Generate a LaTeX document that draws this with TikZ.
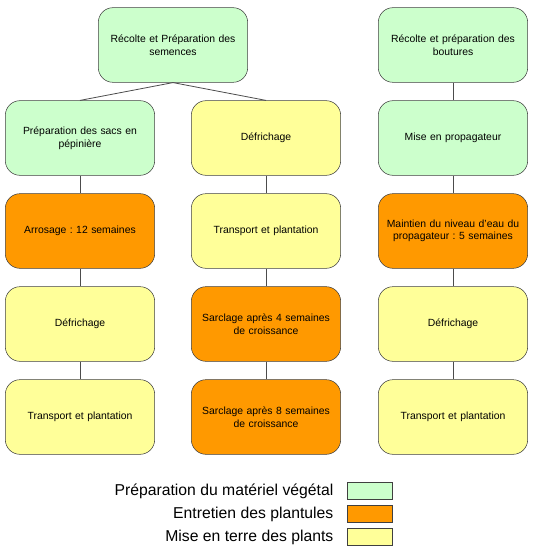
\documentclass[tikz,border=0pt]{standalone}
\usepackage{fontspec}
\setmainfont{Liberation Sans}
\frenchspacing
\definecolor{vert}{HTML}{CCFFCC}
\definecolor{orange}{HTML}{FF9900}
\definecolor{jaune}{HTML}{FFFF99}
\tikzset{
  etape/.style={draw=black!75, rounded corners=11pt, minimum width=112pt, minimum height=56pt,
    align=center, text width=104pt, font=\fontsize{7.8}{9.4}\selectfont},
  legende/.style={draw=black!75, minimum width=34pt, minimum height=13pt, inner sep=0pt},
  lien/.style={draw=black!70, line width=0.6pt}
}
\begin{document}
\begin{tikzpicture}[x=0.75pt, y=-0.75pt]
        \useasboundingbox (0,0) rectangle (534,549);
        % premiere ligne
        \node[etape, fill=vert]  (RS) at (173,45) {R\'ecolte et Pr\'eparation des\\semences};
        \node[etape, fill=vert]  (RB) at (453,45) {R\'ecolte et pr\'eparation des\\boutures};
        
        % colonne de gauche
        \node[etape, fill=vert]   (A1) at (80,138) {Pr\'eparation des sacs en\\p\'epini\`ere};
        \node[etape, fill=orange] (A2) at (80,231) {Arrosage : 12 semaines};
        \node[etape, fill=jaune]  (A3) at (80,324) {D\'efrichage};
        \node[etape, fill=jaune]  (A4) at (80,417) {Transport et plantation};
        
        % colonne du milieu
        \node[etape, fill=jaune]  (B1) at (266,138) {D\'efrichage};
        \node[etape, fill=jaune]  (B2) at (266,231) {Transport et plantation};
        \node[etape, fill=orange] (B3) at (266,324) {Sarclage apr\`es 4 semaines\\de croissance};
        \node[etape, fill=orange] (B4) at (266,417) {Sarclage apr\`es 8 semaines\\de croissance};
        
        % colonne de droite
        \node[etape, fill=vert]   (C1) at (453,138) {Mise en propagateur};
        \node[etape, fill=orange] (C2) at (453,231) {Maintien du niveau d'eau du\\propagateur : 5 semaines};
        \node[etape, fill=jaune]  (C3) at (453,324) {D\'efrichage};
        \node[etape, fill=jaune]  (C4) at (453,417) {Transport et plantation};
        
        \draw[lien] (RS.south) -- (A1.north);
        \draw[lien] (RS.south) -- (B1.north);
        \draw[lien] (RB) -- (C1);
        \draw[lien] (A1) -- (A2) -- (A3) -- (A4);
        \draw[lien] (B1) -- (B2) -- (B3) -- (B4);
        \draw[lien] (C1) -- (C2) -- (C3) -- (C4);
        
        % legende
        \node[legende, fill=vert]   (L1) at (370,491) {};
        \node[legende, fill=orange] (L2) at (370,514) {};
        \node[legende, fill=jaune]  (L3) at (370,537) {};
        \node[anchor=east, font=\fontsize{11.8}{13}\selectfont] (T1) at (338,491) {Pr\'eparation du mat\'eriel v\'eg\'etal};
        \node[anchor=east, font=\fontsize{11.8}{13}\selectfont] (T2) at (338,514) {Entretien des plantules};
        \node[anchor=east, font=\fontsize{11.8}{13}\selectfont] (T3) at (338,537) {Mise en terre des plants};
      \end{tikzpicture}
\end{document}
